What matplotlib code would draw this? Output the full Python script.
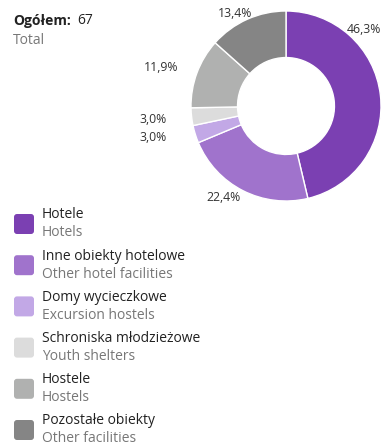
import matplotlib.pyplot as plt
from matplotlib.patches import FancyBboxPatch

# Dane
kategorie_pl = ['Hotele', 'Inne obiekty hotelowe', 'Domy wycieczkowe',
                'Schroniska młodzieżowe', 'Hostele', 'Pozostałe obiekty']
kategorie_en = ['Hotels', 'Other hotel facilities', 'Excursion hostels',
                'Youth shelters', 'Hostels', 'Other facilities']
udzialy = [46.3, 22.4, 3.0, 3.0, 11.9, 13.4]
ogolem = 67
kolory = ['#7b40b2', '#a073cc', '#c2a8e6', '#dcdcdc', '#b0b1b0', '#858585']

plt.rcParams['font.family'] = ['Open Sans', 'DejaVu Sans']

fig = plt.figure(figsize=(3.81, 4.46), dpi=100)

# Tło w pikselach dla legendy i tytułu
bg = fig.add_axes([0, 0, 1, 1])
bg.set_xlim(0, 381)
bg.set_ylim(446, 0)
bg.axis('off')

# Wykres pierścieniowy
ax = fig.add_axes([191 / 381, 245 / 446, 190 / 381, 190 / 446])
wedges, _ = ax.pie(udzialy, colors=kolory, startangle=90, counterclock=False,
                   radius=1, wedgeprops=dict(width=0.49, edgecolor='white', linewidth=1))
ax.set_xlim(-1, 1)
ax.set_ylim(-1, 1)
ax.set_aspect('equal')
ax.axis('off')

# Pozycje etykiet (w promieniach)
pozycje = [(0.82, 0.81), (-0.66, -0.96), (-1.40, -0.33), (-1.40, -0.14),
           (-1.31, 0.41), (-0.54, 0.97)]
for u, (x, y) in zip(udzialy, pozycje):
    ax.text(x, y, f'{u:.1f}%'.replace('.', ','), ha='center', va='center',
            fontsize=8.8, color='#333333', clip_on=False)

# Tytuł
bg.text(13, 21, 'Ogółem:', fontsize=10, fontweight='bold', va='center', color='#222222')
bg.text(77, 21, str(ogolem), fontsize=10, va='center', color='#222222')
bg.text(13, 40, 'Total', fontsize=10, va='center', color='#777777')

# Legenda
for i, (pl, en, c) in enumerate(zip(kategorie_pl, kategorie_en, kolory)):
    y0 = 215 + i * 41.2
    bg.add_patch(FancyBboxPatch((14, y0 - 1), 20, 20, boxstyle='round,pad=0,rounding_size=3',
                                facecolor=c, edgecolor='none'))
    bg.text(42, y0, pl, fontsize=10, va='center', color='#222222')
    bg.text(42, y0 + 18, en, fontsize=10, va='center', color='#777777')

plt.savefig('out.png', dpi=100)
